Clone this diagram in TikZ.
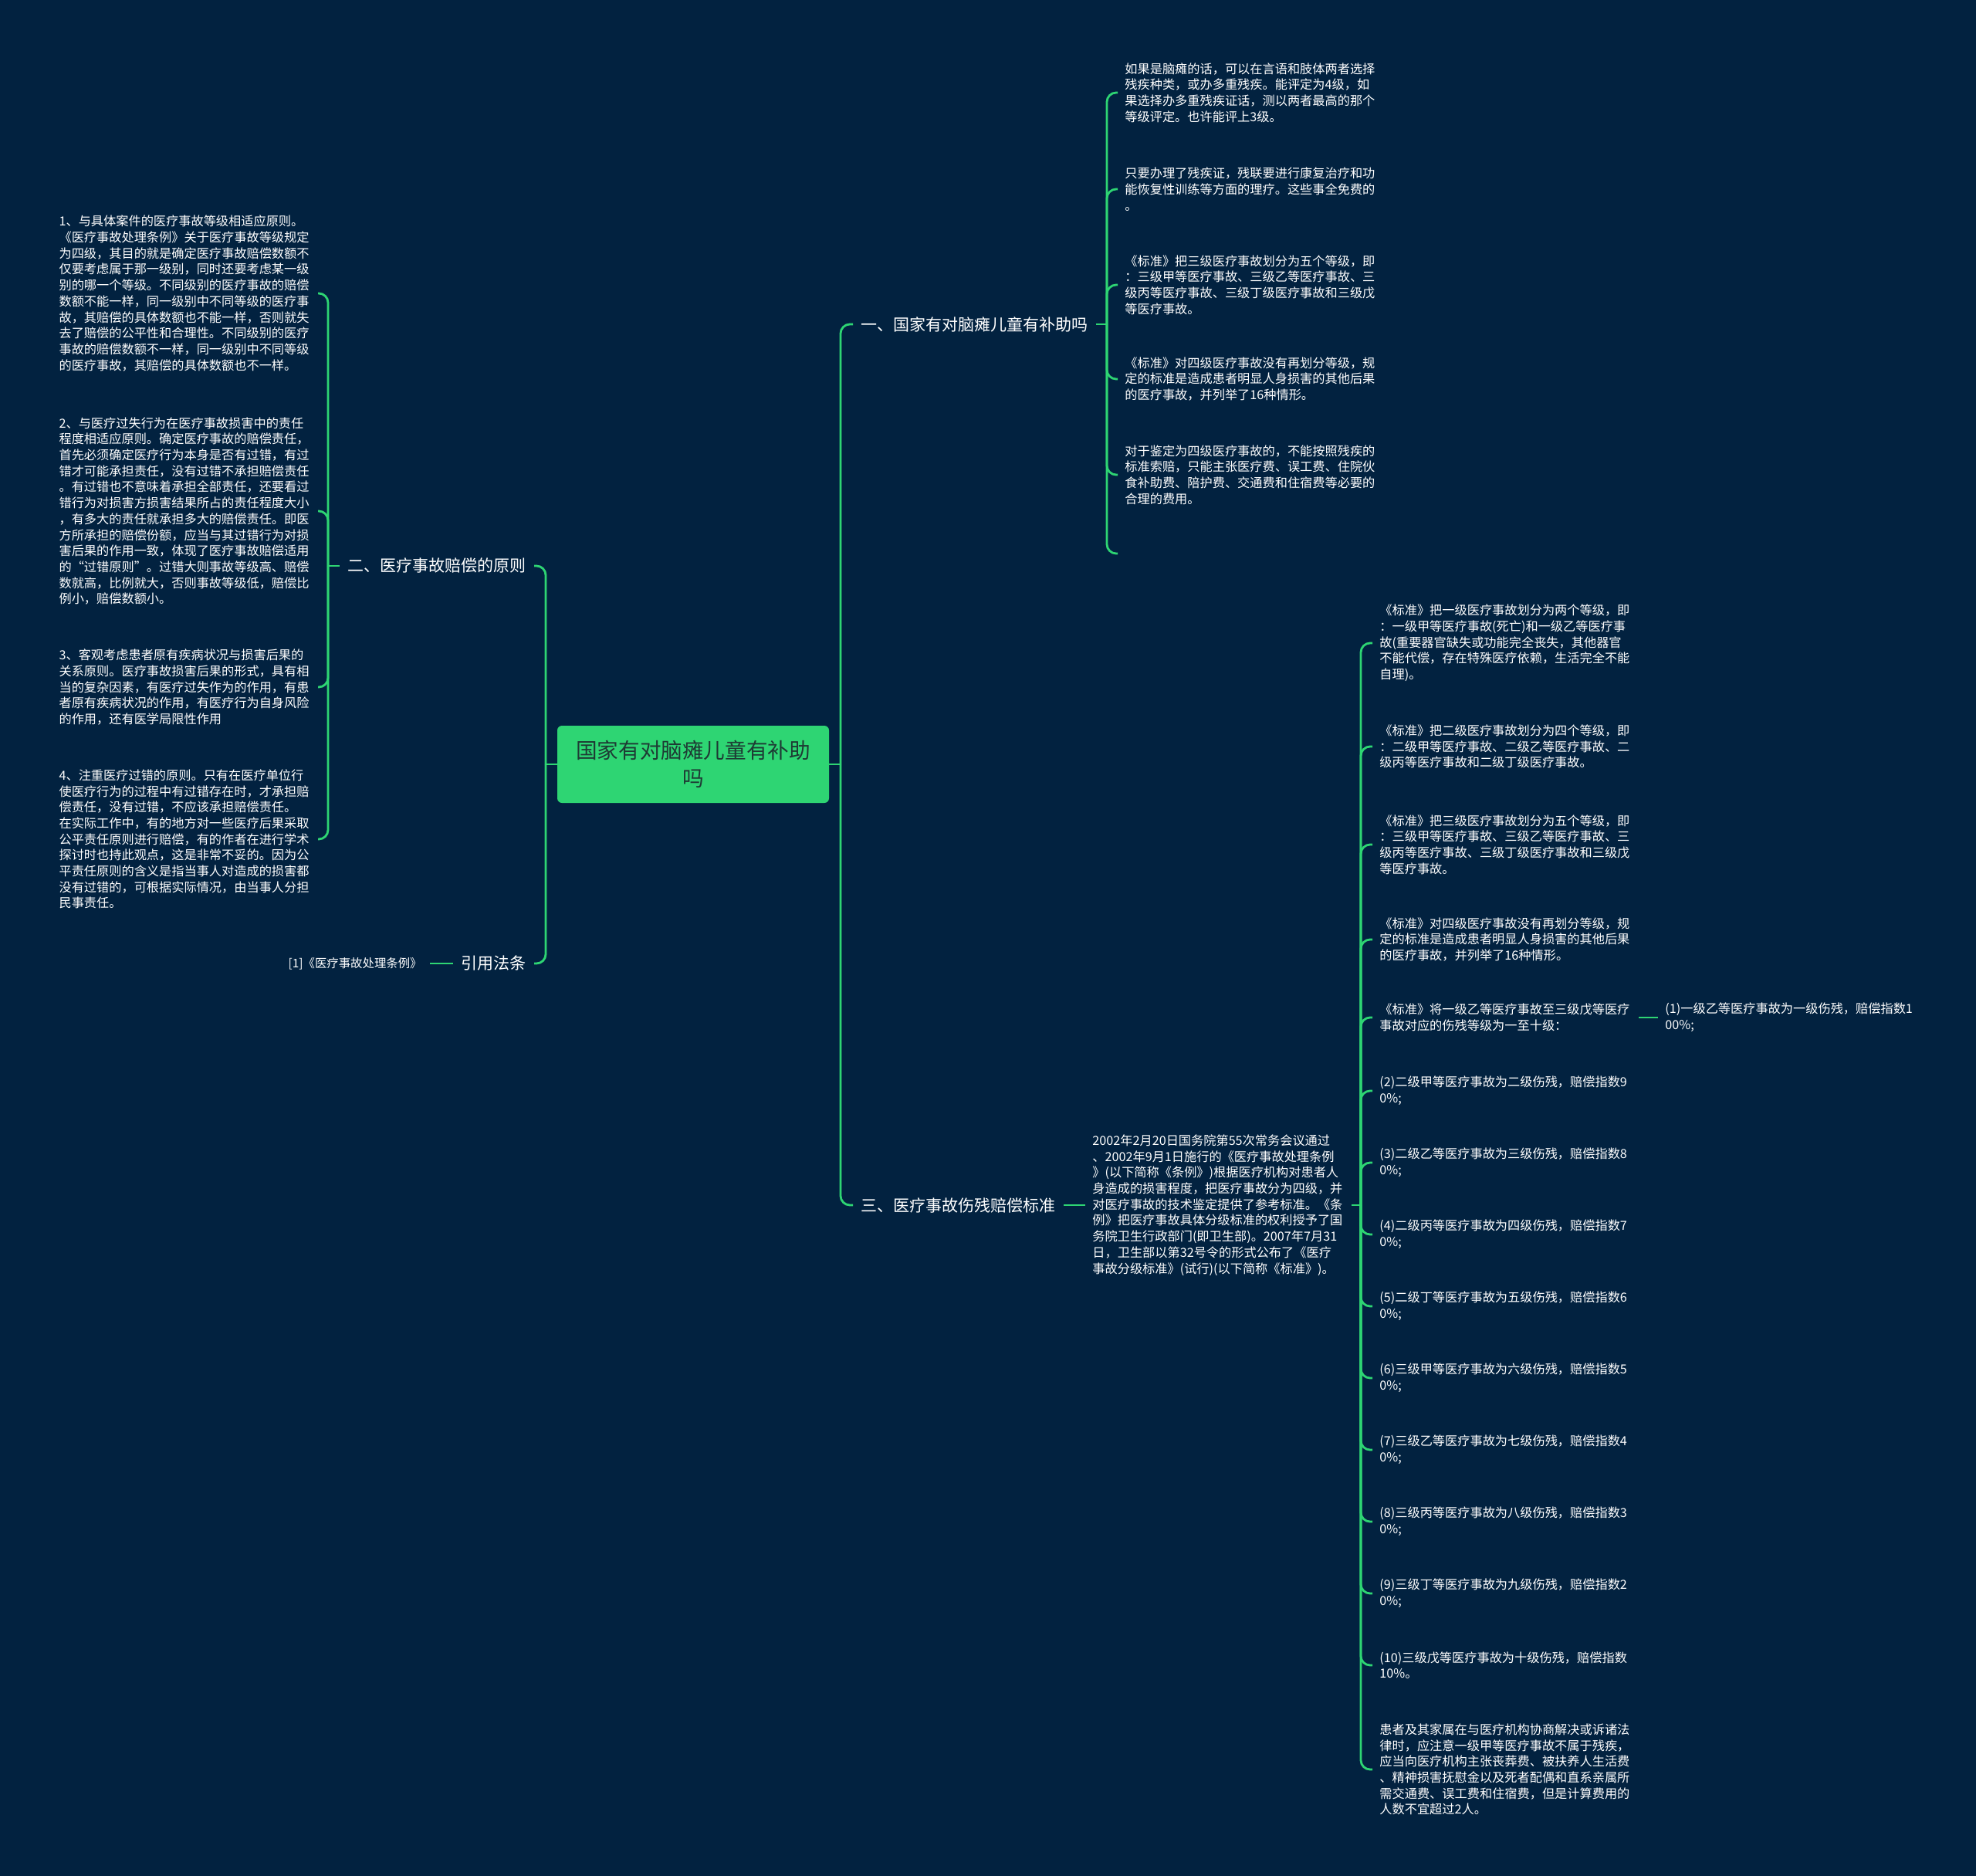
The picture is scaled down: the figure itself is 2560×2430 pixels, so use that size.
\documentclass[tikz,border=0pt]{standalone}
\usepackage{fontspec}
\setmainfont{Noto Sans CJK SC}
\definecolor{bgnavy}{HTML}{022240}
\definecolor{mapgreen}{HTML}{2ED573}
\definecolor{rootink}{HTML}{1E3A34}
\tikzset{
  link/.style={draw=mapgreen, line width=1.4pt, rounded corners=6pt},
  rootbox/.style={fill=mapgreen, rounded corners=3pt, text=rootink, align=center,
    font=\fontsize{13.8}{18}\selectfont, minimum width=176pt, minimum height=50pt},
  branch/.style={text=white, inner xsep=5pt, inner ysep=2pt, font=\fontsize{10.5}{13}\selectfont},
  leaf/.style={text=white, inner xsep=4.5pt, inner ysep=2pt, text width=163pt, align=left,
    font=\fontsize{8.1}{10.35}\selectfont},
  reflabel/.style={text=white, inner xsep=5pt, font=\fontsize{7.7}{10}\selectfont},
}
\begin{document}
\begin{tikzpicture}[x=0.5pt, y=-0.5pt]
    \fill[bgnavy] (0,0) rectangle (2560,2430);
    \useasboundingbox (0,0) rectangle (2560,2430);
    % centre
    \node[rootbox] (root) at (898,990) {国家有对脑瘫儿童有补助\\吗};
    \coordinate (rj) at (1089,990);
    \coordinate (lj) at (707,990);
    \node[branch, anchor=west] (b1) at (1105,420) {一、国家有对脑瘫儿童有补助吗};
    \node[branch, anchor=east] (b2) at (692,733) {二、医疗事故赔偿的原则};
    \node[branch, anchor=east] (b3) at (692,1248) {引用法条};
    \node[branch, anchor=west] (b4) at (1105,1561) {三、医疗事故伤残赔偿标准};
    \draw[link] (root.east) -- (rj);
    \draw[link] (root.west) -- (lj);
    \draw[link] (rj) |- (b1.west);
    \draw[link] (rj) |- (b4.west);
    \draw[link] (lj) |- (b2.east);
    \draw[link] (lj) |- (b3.east);
    % branch one
    \node[leaf, anchor=west] (t1) at (1448,120) {如果是脑瘫的话，可以在言语和肢体两者选择\\残疾种类，或办多重残疾。能评定为4级，如\\果选择办多重残疾证话，测以两者最高的那个\\等级评定。也许能评上3级。};
    \node[leaf, anchor=west] (t2) at (1448,245) {只要办理了残疾证，残联要进行康复治疗和功\\能恢复性训练等方面的理疗。这些事全免费的\\。};
    \node[leaf, anchor=west] (t3) at (1448,369) {《标准》把三级医疗事故划分为五个等级，即\\：三级甲等医疗事故、三级乙等医疗事故、三\\级丙等医疗事故、三级丁级医疗事故和三级戊\\等医疗事故。};
    \node[leaf, anchor=west] (t4) at (1448,491) {《标准》对四级医疗事故没有再划分等级，规\\定的标准是造成患者明显人身损害的其他后果\\的医疗事故，并列举了16种情形。};
    \node[leaf, anchor=west] (t5) at (1448,615) {对于鉴定为四级医疗事故的，不能按照残疾的\\标准索赔，只能主张医疗费、误工费、住院伙\\食补助费、陪护费、交通费和住宿费等必要的\\合理的费用。};
    \node[leaf, anchor=west] (t6) at (1448,717) {};
    \coordinate (j1) at (1434,420);
    \draw[link] (b1.east) -- (j1);
    \draw[link] (j1) |- (t1.west);
    \draw[link] (j1) |- (t2.west);
    \draw[link] (j1) |- (t3.west);
    \draw[link] (j1) |- (t4.west);
    \draw[link] (j1) |- (t5.west);
    \draw[link] (j1) |- (t6.west);
    % branch two
    \node[leaf, anchor=east] (p1) at (412,380) {1、与具体案件的医疗事故等级相适应原则。\\《医疗事故处理条例》关于医疗事故等级规定\\为四级，其目的就是确定医疗事故赔偿数额不\\仅要考虑属于那一级别，同时还要考虑某一级\\别的哪一个等级。不同级别的医疗事故的赔偿\\数额不能一样，同一级别中不同等级的医疗事\\故，其赔偿的具体数额也不能一样，否则就失\\去了赔偿的公平性和合理性。不同级别的医疗\\事故的赔偿数额不一样，同一级别中不同等级\\的医疗事故，其赔偿的具体数额也不一样。};
    \node[leaf, anchor=east] (p2) at (412,662) {2、与医疗过失行为在医疗事故损害中的责任\\程度相适应原则。确定医疗事故的赔偿责任，\\首先必须确定医疗行为本身是否有过错，有过\\错才可能承担责任，没有过错不承担赔偿责任\\。有过错也不意味着承担全部责任，还要看过\\错行为对损害方损害结果所占的责任程度大小\\，有多大的责任就承担多大的赔偿责任。即医\\方所承担的赔偿份额，应当与其过错行为对损\\害后果的作用一致，体现了医疗事故赔偿适用\\的“过错原则”。过错大则事故等级高、赔偿\\数就高，比例就大，否则事故等级低，赔偿比\\例小，赔偿数额小。};
    \node[leaf, anchor=east] (p3) at (412,890) {3、客观考虑患者原有疾病状况与损害后果的\\关系原则。医疗事故损害后果的形式，具有相\\当的复杂因素，有医疗过失作为的作用，有患\\者原有疾病状况的作用，有医疗行为自身风险\\的作用，还有医学局限性作用};
    \node[leaf, anchor=east] (p4) at (412,1087) {4、注重医疗过错的原则。只有在医疗单位行\\使医疗行为的过程中有过错存在时，才承担赔\\偿责任，没有过错，不应该承担赔偿责任。\\在实际工作中，有的地方对一些医疗后果采取\\公平责任原则进行赔偿，有的作者在进行学术\\探讨时也持此观点，这是非常不妥的。因为公\\平责任原则的含义是指当事人对造成的损害都\\没有过错的，可根据实际情况，由当事人分担\\民事责任。};
    \coordinate (j2) at (425,733);
    \draw[link] (b2.west) -- (j2);
    \draw[link] (j2) |- (p1.east);
    \draw[link] (j2) |- (p2.east);
    \draw[link] (j2) |- (p3.east);
    \draw[link] (j2) |- (p4.east);
    % references
    \node[reflabel, anchor=east] (ref) at (557,1248) {[1]《医疗事故处理条例》};
    \draw[link] (b3.west) -- (ref.east);
    % branch three
    \node[leaf, anchor=west] (mid) at (1406,1561) {2002年2月20日国务院第55次常务会议通过\\、2002年9月1日施行的《医疗事故处理条例\\》(以下简称《条例》)根据医疗机构对患者人\\身造成的损害程度，把医疗事故分为四级，并\\对医疗事故的技术鉴定提供了参考标准。《条\\例》把医疗事故具体分级标准的权利授予了国\\务院卫生行政部门(即卫生部)。2007年7月31\\日，卫生部以第32号令的形式公布了《医疗\\事故分级标准》(试行)(以下简称《标准》)。};
    \draw[link] (b4.east) -- (mid.west);
    \coordinate (j4) at (1763,1561);
    \draw[link] (mid.east) -- (j4);
    \node[leaf, anchor=west] (s1) at (1778,833) {《标准》把一级医疗事故划分为两个等级，即\\：一级甲等医疗事故(死亡)和一级乙等医疗事\\故(重要器官缺失或功能完全丧失，其他器官\\不能代偿，存在特殊医疗依赖，生活完全不能\\自理)。};
    \node[leaf, anchor=west] (s2) at (1778,967) {《标准》把二级医疗事故划分为四个等级，即\\：二级甲等医疗事故、二级乙等医疗事故、二\\级丙等医疗事故和二级丁级医疗事故。};
    \node[leaf, anchor=west] (s3) at (1778,1094) {《标准》把三级医疗事故划分为五个等级，即\\：三级甲等医疗事故、三级乙等医疗事故、三\\级丙等医疗事故、三级丁级医疗事故和三级戊\\等医疗事故。};
    \node[leaf, anchor=west] (s4) at (1778,1217) {《标准》对四级医疗事故没有再划分等级，规\\定的标准是造成患者明显人身损害的其他后果\\的医疗事故，并列举了16种情形。};
    \node[leaf, anchor=west] (s5) at (1778,1318) {《标准》将一级乙等医疗事故至三级戊等医疗\\事故对应的伤残等级为一至十级：};
    \node[leaf, anchor=west] (s5a) at (2148,1318) {(1)一级乙等医疗事故为一级伤残，赔偿指数1\\00\%;};
    \node[leaf, anchor=west] (s6) at (1778,1413) {(2)二级甲等医疗事故为二级伤残，赔偿指数9\\0\%;};
    \node[leaf, anchor=west] (s7) at (1778,1506) {(3)二级乙等医疗事故为三级伤残，赔偿指数8\\0\%;};
    \node[leaf, anchor=west] (s8) at (1778,1599) {(4)二级丙等医疗事故为四级伤残，赔偿指数7\\0\%;};
    \node[leaf, anchor=west] (s9) at (1778,1692) {(5)二级丁等医疗事故为五级伤残，赔偿指数6\\0\%;};
    \node[leaf, anchor=west] (s10) at (1778,1785) {(6)三级甲等医疗事故为六级伤残，赔偿指数5\\0\%;};
    \node[leaf, anchor=west] (s11) at (1778,1878) {(7)三级乙等医疗事故为七级伤残，赔偿指数4\\0\%;};
    \node[leaf, anchor=west] (s12) at (1778,1971) {(8)三级丙等医疗事故为八级伤残，赔偿指数3\\0\%;};
    \node[leaf, anchor=west] (s13) at (1778,2064) {(9)三级丁等医疗事故为九级伤残，赔偿指数2\\0\%;};
    \node[leaf, anchor=west] (s14) at (1778,2157) {(10)三级戊等医疗事故为十级伤残，赔偿指数\\10\%。};
    \node[leaf, anchor=west] (s15) at (1778,2292) {患者及其家属在与医疗机构协商解决或诉诸法\\律时，应注意一级甲等医疗事故不属于残疾，\\应当向医疗机构主张丧葬费、被扶养人生活费\\、精神损害抚慰金以及死者配偶和直系亲属所\\需交通费、误工费和住宿费，但是计算费用的\\人数不宜超过2人。};
    \draw[link] (j4) |- (s1.west);
    \draw[link] (j4) |- (s2.west);
    \draw[link] (j4) |- (s3.west);
    \draw[link] (j4) |- (s4.west);
    \draw[link] (j4) |- (s5.west);
    \draw[link] (j4) |- (s6.west);
    \draw[link] (j4) |- (s7.west);
    \draw[link] (j4) |- (s8.west);
    \draw[link] (j4) |- (s9.west);
    \draw[link] (j4) |- (s10.west);
    \draw[link] (j4) |- (s11.west);
    \draw[link] (j4) |- (s12.west);
    \draw[link] (j4) |- (s13.west);
    \draw[link] (j4) |- (s14.west);
    \draw[link] (j4) |- (s15.west);
    \draw[link] (s5.east) -- (s5a.west);
\end{tikzpicture}
\end{document}
